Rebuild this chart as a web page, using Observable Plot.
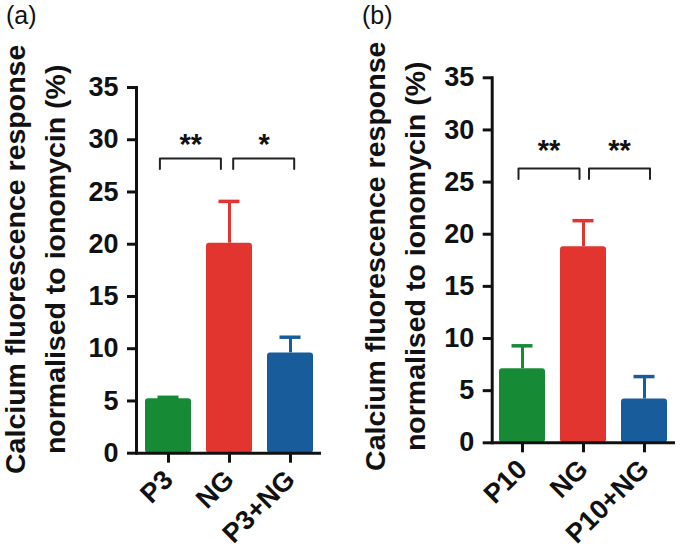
<!DOCTYPE html>
<html><head><meta charset="utf-8">
<script src="https://cdn.jsdelivr.net/npm/d3@7"></script>
<script src="https://cdn.jsdelivr.net/npm/@observablehq/plot@0.6"></script>
<style>
body{margin:0;background:#fff;}
#wrap{position:relative;width:680px;height:552px;display:flex;}
.plabel{position:absolute;top:3px;font:25px "Liberation Sans",Arial,sans-serif;line-height:25px;color:#111;}
</style></head><body>
<div id="wrap"></div>
<script>
// ---- data ----
const categoriesA = ["P3", "NG", "P3+NG"];
const meansA = [5.2, 20.1, 9.6];
const errorsA = [0.15, 4.0, 1.5];
const comparisonsA = [{from: "P3", to: "NG", label: "**"}, {from: "NG", to: "P3+NG", label: "*"}];
const bracketLevelA = 28.2;
const starLevelA = 30.2;

const categoriesB = ["P10", "NG", "P10+NG"];
const meansB = [7.1, 18.8, 4.2];
const errorsB = [2.2, 2.5, 2.15];
const comparisonsB = [{from: "P10", to: "NG", label: "**"}, {from: "NG", to: "P10+NG", label: "**"}];
const bracketLevelB = 26.3;
const starLevelB = 28.7;

const barColors = ["#178a36", "#e3352f", "#195c9c"];
const yTicks = [0, 5, 10, 15, 20, 25, 30, 35];
const yDomain = [0, 35];
const yLabel = "Calcium fluorescence response\nnormalised to ionomycin (%)";
const panelTitles = ["(a)", "(b)"];

// ---- drawing ----
function panel(o) {
  const W = 340, H = 552;
  const rows = o.cats.map((c, i) => ({cat: c, mean: o.means[i], err: o.errs[i], color: barColors[i]}));
  const step = (W - o.ml - o.mr) / o.cats.length;
  const ink = "#111";
  const marks = [];
  // error bars
  marks.push(Plot.ruleX(rows, {x: "cat", y1: "mean", y2: d => d.mean + d.err, stroke: "color", strokeWidth: 3}));
  marks.push(Plot.tickY(rows, {x: "cat", y: d => d.mean + d.err, stroke: "color", strokeWidth: 3.5, insetLeft: 12.5, insetRight: 12.5}));
  // bars
  marks.push(Plot.barY(rows, {x: "cat", y: "mean", fill: "color", rx: 3}));
  // axes
  marks.push(Plot.ruleY([0], {stroke: ink, strokeWidth: 3}));
  marks.push(Plot.frame({anchor: "left", stroke: ink, strokeWidth: 3}));
  marks.push(Plot.axisY({ticks: yTicks, tickSize: 9, tickPadding: 9, strokeWidth: 3, stroke: ink, fill: ink, label: null, fontSize: 27}));
  marks.push(Plot.axisX({tickSize: 10, tickPadding: 12, tickRotate: -45, strokeWidth: 3, stroke: ink, fill: ink, label: null, fontSize: 27}));
  // brackets + stars
  o.comps.forEach((c, k) => {
    const pts = [
      {cat: c.from, y: o.bracket - 1}, {cat: c.from, y: o.bracket},
      {cat: c.to, y: o.bracket}, {cat: c.to, y: o.bracket - 1}
    ];
    marks.push(Plot.line(pts, {x: "cat", y: "y", stroke: "#222", strokeWidth: 2, dx: o.bdx[k]}));
    marks.push(Plot.text([c], {x: "from", y: o.star, text: "label", dx: step / 2 + o.bdx[k], dy: 7, fontSize: 29, fontWeight: "bold", fill: ink, lineAnchor: "middle"}));
  });
  // y label
  marks.push(Plot.text([yLabel], {frameAnchor: "left", text: d => d, rotate: -90, dx: o.ldx, dy: o.ldy,
    lineHeight: 1.4, fontSize: 28.5, fontWeight: "bold", fill: ink, textAnchor: "middle", lineAnchor: "middle"}));
  return Plot.plot({
    width: W, height: H,
    marginLeft: o.ml, marginRight: o.mr, marginTop: o.mt, marginBottom: o.mb,
    style: {fontFamily: "'Liberation Sans', Arial, sans-serif", fontSize: "27px", fontWeight: "bold", background: "#fff", overflow: "visible"},
    x: {domain: o.cats, paddingInner: 0.25, paddingOuter: 0.125},
    y: {domain: yDomain},
    color: {type: "identity"},
    marks
  });
}

const wrap = document.getElementById("wrap");
wrap.append(panel({cats: categoriesA, means: meansA, errs: errorsA, comps: comparisonsA,
  bracket: bracketLevelA, star: starLevelA, ml: 136, mr: 19, mt: 87, mb: 99.3,
  bdx: [-8.6, 3.7], ldx: -104, ldy: -11}));
wrap.append(panel({cats: categoriesB, means: meansB, errs: errorsB, comps: comparisonsB,
  bracket: bracketLevelB, star: starLevelB, ml: 151.7, mr: 5, mt: 77.3, mb: 109.7,
  bdx: [-4, 5.5], ldx: -100, ldy: -4}));

panelTitles.forEach((t, i) => {
  const d = document.createElement("div");
  d.className = "plabel";
  d.textContent = t;
  d.style.left = (i === 0 ? 6 : 362) + "px";
  wrap.append(d);
});
</script>
</body></html>
